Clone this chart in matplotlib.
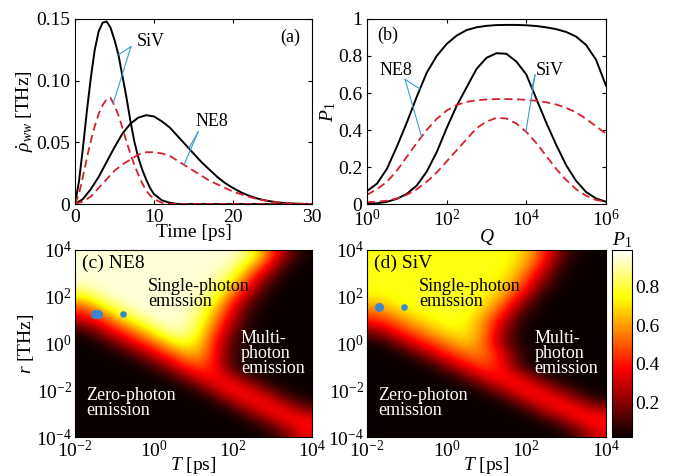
import numpy as np
import matplotlib
matplotlib.use('Agg')
import matplotlib.pyplot as plt

plt.rcParams['font.family'] = ['Liberation Serif', 'DejaVu Serif']
plt.rcParams['mathtext.fontset'] = 'custom'
plt.rcParams['mathtext.rm'] = 'Liberation Serif'
plt.rcParams['mathtext.it'] = 'Liberation Serif:italic'
plt.rcParams['mathtext.bf'] = 'Liberation Serif:bold'

# ---- panel (a): emission rate vs time ----
t_siv = [0, 0.5, 1, 1.5, 2, 2.5, 3, 3.5, 4, 4.5, 5, 5.5, 6, 6.5, 7, 7.5, 8, 8.5,
         9, 9.5, 10, 11, 12, 13, 30]
siv_black = [0, 0.018, 0.045, 0.075, 0.102, 0.125, 0.140, 0.147, 0.148, 0.143,
             0.133, 0.121, 0.104, 0.087, 0.068, 0.051, 0.038, 0.028, 0.020,
             0.013, 0.008, 0.003, 0.001, 0, 0]
siv_red = [0, 0.008, 0.022, 0.037, 0.051, 0.063, 0.073, 0.080, 0.085, 0.086,
           0.080, 0.072, 0.062, 0.051, 0.041, 0.032, 0.024, 0.017, 0.011,
           0.007, 0.004, 0.001, 0, 0, 0]

t_ne8 = list(range(31))
ne8_black = [0, 0.004, 0.012, 0.022, 0.034, 0.046, 0.057, 0.065, 0.070, 0.072,
             0.071, 0.067, 0.062, 0.055, 0.048, 0.041, 0.034, 0.028, 0.022,
             0.017, 0.013, 0.0095, 0.0068, 0.0046, 0.003, 0.0019, 0.0011,
             0.0006, 0.0003, 0.0001, 0]
ne8_red = [0, 0.002, 0.006, 0.013, 0.020, 0.027, 0.032, 0.036, 0.040, 0.042,
           0.042, 0.041, 0.039, 0.035, 0.031, 0.027, 0.023, 0.019, 0.016,
           0.013, 0.010, 0.008, 0.006, 0.004, 0.003, 0.002, 0.0012, 0.0006,
           0.0003, 0.0001, 0]

# ---- panel (b): P1 vs Q (log10 Q) ----
logQ = [0, 0.25, 0.5, 0.75, 1, 1.25, 1.5, 1.75, 2, 2.25, 2.5, 2.75, 3, 3.25,
        3.5, 3.75, 4, 4.25, 4.5, 4.75, 5, 5.25, 5.5, 5.75, 6]
p1_ne8_black = [0.07, 0.11, 0.19, 0.31, 0.44, 0.58, 0.71, 0.80, 0.865, 0.91,
                0.94, 0.955, 0.963, 0.967, 0.968, 0.968, 0.966, 0.962, 0.955,
                0.945, 0.93, 0.905, 0.86, 0.78, 0.64]
p1_siv_black = [0.0, 0.004, 0.012, 0.028, 0.055, 0.10, 0.175, 0.28, 0.41, 0.53,
                0.63, 0.73, 0.79, 0.815, 0.812, 0.77, 0.70, 0.57, 0.44, 0.32,
                0.21, 0.125, 0.065, 0.03, 0.012]
p1_ne8_red = [0.05, 0.08, 0.12, 0.18, 0.255, 0.33, 0.40, 0.46, 0.505, 0.535,
              0.552, 0.561, 0.565, 0.567, 0.567, 0.566, 0.563, 0.558, 0.55,
              0.538, 0.52, 0.495, 0.46, 0.42, 0.38]
p1_siv_red = [0.01, 0.012, 0.018, 0.03, 0.05, 0.08, 0.12, 0.17, 0.23, 0.29,
              0.35, 0.41, 0.445, 0.466, 0.462, 0.435, 0.39, 0.33, 0.26, 0.19,
              0.13, 0.08, 0.045, 0.022, 0.012]

# ---- panels (c),(d): P1 maps, rows log10 r = 4 ... -4, cols log10 T = -2 ... 4 ----
logT_ext = [-2, 4]
logr_ext = [-4, 4]
p1_map_ne8 = [
    [.95, .95, .95, .95, .95, .95, .95, .95, .95, .85, .55, .22, .03],
    [.95, .95, .95, .95, .95, .95, .95, .95, .92, .70, .40, .08, .02],
    [.95, .95, .95, .95, .95, .95, .95, .94, .82, .52, .19, .03, .02],
    [.90, .95, .95, .95, .95, .95, .95, .91, .67, .37, .07, .02, .02],
    [.68, .88, .95, .95, .95, .95, .94, .82, .52, .19, .03, .02, .02],
    [.45, .65, .85, .95, .95, .95, .92, .70, .40, .08, .02, .02, .02],
    [.28, .43, .62, .82, .94, .95, .88, .62, .30, .05, .02, .02, .02],
    [.06, .25, .42, .57, .79, .93, .84, .53, .20, .03, .02, .02, .02],
    [.02, .05, .22, .40, .54, .76, .76, .47, .13, .03, .02, .02, .02],
    [.02, .02, .04, .17, .37, .52, .66, .45, .12, .03, .02, .02, .02],
    [.02, .02, .02, .03, .14, .35, .50, .43, .10, .02, .02, .02, .02],
    [.02, .02, .02, .02, .03, .12, .32, .42, .30, .08, .02, .02, .02],
    [.02, .02, .02, .02, .02, .02, .08, .30, .42, .33, .12, .03, .02],
    [.02, .02, .02, .02, .02, .02, .02, .06, .29, .41, .35, .14, .04],
    [.02, .02, .02, .02, .02, .02, .02, .02, .05, .25, .40, .38, .18],
    [.02, .02, .02, .02, .02, .02, .02, .02, .02, .05, .20, .39, .40],
    [.02, .02, .02, .02, .02, .02, .02, .02, .02, .02, .04, .16, .37],
]
p1_map_siv = [
    [.76, .76, .76, .76, .76, .76, .76, .76, .69, .48, .17, .03, .02],
    [.76, .76, .76, .76, .76, .76, .76, .76, .63, .40, .08, .02, .02],
    [.76, .76, .76, .76, .76, .76, .76, .73, .54, .26, .04, .02, .02],
    [.76, .76, .76, .76, .77, .77, .76, .67, .45, .13, .03, .02, .02],
    [.70, .76, .76, .77, .78, .78, .73, .55, .27, .04, .02, .02, .02],
    [.55, .67, .75, .77, .78, .78, .65, .43, .12, .02, .02, .02, .02],
    [.41, .51, .64, .73, .77, .74, .55, .28, .04, .02, .02, .02, .02],
    [.19, .37, .49, .61, .72, .72, .53, .20, .03, .02, .02, .02, .02],
    [.03, .14, .34, .45, .57, .68, .50, .18, .03, .02, .02, .02, .02],
    [.02, .02, .10, .29, .43, .54, .55, .30, .06, .02, .02, .02, .02],
    [.02, .02, .02, .06, .25, .40, .48, .35, .06, .02, .02, .02, .02],
    [.02, .02, .02, .02, .05, .19, .37, .42, .30, .08, .02, .02, .02],
    [.02, .02, .02, .02, .02, .03, .14, .33, .42, .33, .13, .04, .02],
    [.02, .02, .02, .02, .02, .02, .02, .09, .30, .41, .37, .18, .05],
    [.02, .02, .02, .02, .02, .02, .02, .02, .06, .25, .40, .40, .26],
    [.02, .02, .02, .02, .02, .02, .02, .02, .02, .05, .17, .37, .42],
    [.02, .02, .02, .02, .02, .02, .02, .02, .02, .02, .03, .13, .34],
]
# emitter parameter points (log10 T, log10 r)
pts_ne8_T = [-1.5, -1.42, -0.78]
pts_ne8_r = [1.25, 1.25, 1.26]
pts_siv_T = [-1.69, -1.07]
pts_siv_r = [1.55, 1.55]

RED = '#d4202c'
CYAN = '#3a9ccc'
DOT = '#3b86cf'
FS = 14

fig = plt.figure(figsize=(6.73, 4.76), dpi=100)
ax_a = fig.add_axes([0.1114, 0.5714, 0.3522, 0.3887])
ax_b = fig.add_axes([0.5453, 0.5714, 0.3551, 0.3887])
ax_c = fig.add_axes([0.1114, 0.0819, 0.3522, 0.3929])
ax_d = fig.add_axes([0.5453, 0.0819, 0.3551, 0.3929])
cax = fig.add_axes([0.9094, 0.0819, 0.0297, 0.3929])

dash = (4.5, 2.5)

# (a)
ax_a.plot(t_siv, siv_black, color='k', lw=1.4)
ax_a.plot(t_ne8, ne8_black, color='k', lw=1.4)
ax_a.plot(t_siv, siv_red, color=RED, lw=1.3, dashes=dash)
ax_a.plot(t_ne8, ne8_red, color=RED, lw=1.3, dashes=dash)
ax_a.set_xlim(0, 30)
ax_a.set_ylim(0, 0.15)
ax_a.set_xticks([0, 10, 20, 30])
ax_a.set_yticks([0, 0.05, 0.10, 0.15])
ax_a.set_yticklabels(['0', '0.05', '0.10', '0.15'])
ax_a.set_xlabel('Time [ps]', fontsize=FS, labelpad=-1)
ax_a.set_ylabel(r'$\dot{\rho}_{ww}$ [THz]', fontsize=FS, labelpad=0)
ax_a.text(0.91, 0.90, '(a)', transform=ax_a.transAxes, fontsize=13, ha='center', va='center')

ax_a.text(9.6, 0.132, 'SiV', fontsize=13, ha='center', va='center')
for tt, src in [(5.5, (t_siv, siv_black)), (4.85, (t_siv, siv_red))]:
    ax_a.plot([7.09, tt], [0.1276, np.interp(tt, *src)], color=CYAN, lw=0.8)
ax_a.text(17.3, 0.0665, 'NE8', fontsize=13, ha='center', va='center')
for tt, src in [(14.4, (t_ne8, ne8_black)), (13.8, (t_ne8, ne8_red))]:
    ax_a.plot([15.6, tt], [0.0586, np.interp(tt, *src)], color=CYAN, lw=0.8)

# (b)
Q = 10.0 ** np.array(logQ)
ax_b.semilogx(Q, p1_ne8_black, color='k', lw=1.4)
ax_b.semilogx(Q, p1_siv_black, color='k', lw=1.4)
ax_b.semilogx(Q, p1_ne8_red, color=RED, lw=1.3, dashes=dash)
ax_b.semilogx(Q, p1_siv_red, color=RED, lw=1.3, dashes=dash)
ax_b.set_xlim(1, 1e6)
ax_b.set_ylim(0, 1)
ax_b.set_xticks([1, 1e2, 1e4, 1e6])
ax_b.set_xticklabels([r'$10^0$', r'$10^2$', r'$10^4$', r'$10^6$'])
ax_b.xaxis.set_minor_locator(matplotlib.ticker.NullLocator())
ax_b.set_yticks([0, 0.2, 0.4, 0.6, 0.8, 1])
ax_b.set_yticklabels(['0', '0.2', '0.4', '0.6', '0.8', '1'])
ax_b.set_xlabel(r'$Q$', fontsize=FS, labelpad=-2)
ax_b.set_ylabel(r'$P_1$', fontsize=FS, labelpad=0)
ax_b.text(0.088, 0.91, '(b)', transform=ax_b.transAxes, fontsize=13, ha='center', va='center')

ax_b.text(10 ** 0.73, 0.724, 'NE8', fontsize=13, ha='center', va='center')
for lq, curve in [(1.33, p1_ne8_black), (1.37, p1_ne8_red)]:
    ax_b.plot([10 ** 0.955, 10 ** lq], [0.674, np.interp(lq, logQ, curve)], color=CYAN, lw=0.8)
ax_b.text(10 ** 4.6, 0.724, 'SiV', fontsize=13, ha='center', va='center')
for lq, curve in [(4.14, p1_siv_black), (3.99, p1_siv_red)]:
    ax_b.plot([10 ** 4.22, 10 ** lq], [0.697, np.interp(lq, logQ, curve)], color=CYAN, lw=0.8)

for ax in (ax_a, ax_b):
    ax.tick_params(direction='in', top=True, right=True, labelsize=FS, length=3)

# (c),(d)
ext = [logT_ext[0], logT_ext[1], logr_ext[0], logr_ext[1]]
im = None
for ax, grid, tag, sx, pts in [
        (ax_c, p1_map_ne8, '(c) NE8', -0.15, (pts_ne8_T, pts_ne8_r)),
        (ax_d, p1_map_siv, '(d) SiV', -0.69, (pts_siv_T, pts_siv_r))]:
    im = ax.imshow(np.array(grid), extent=ext, origin='upper', aspect='auto',
                   cmap='hot', vmin=0.02, vmax=0.99, interpolation='bicubic')
    ax.set_xlim(-2, 4)
    ax.set_ylim(-4, 4)
    ax.set_xticks([-2, 0, 2, 4])
    ax.set_xticklabels([r'$10^{-2}$', r'$10^{0}$', r'$10^{2}$', r'$10^{4}$'])
    ax.set_yticks([-4, -2, 0, 2, 4])
    ax.set_yticklabels([r'$10^{-4}$', r'$10^{-2}$', r'$10^{0}$', r'$10^{2}$', r'$10^{4}$'])
    ax.tick_params(direction='in', labelsize=FS, length=0, pad=2)
    ax.set_xlabel(r'$T$ [ps]', fontsize=FS, labelpad=-4)
    ax.text(-1.82, 3.44, tag, fontsize=14, ha='left', va='center')
    ax.text(sx, 2.1, 'Single-photon\nemission', fontsize=13, ha='left', va='center',
            linespacing=0.85, color='k')
    ax.text(2.2, -0.44, 'Multi-\nphoton\nemission', fontsize=13, ha='left', va='center',
            linespacing=0.85, color='w')
    ax.text(-1.72, -2.54, 'Zero-photon\nemission', fontsize=13, ha='left', va='center',
            linespacing=0.85, color='w')
    ax.scatter(pts[0][:-1], pts[1][:-1], s=30, color=DOT, zorder=3)
    ax.scatter(pts[0][-1:], pts[1][-1:], s=14, color=DOT, zorder=3)

ax_c.set_ylabel(r'$r$ [THz]', fontsize=FS, labelpad=0)

cb = fig.colorbar(im, cax=cax, ticks=[0.2, 0.4, 0.6, 0.8])
cb.ax.tick_params(labelsize=FS, length=0, pad=2)
cb.outline.set_linewidth(0.8)
cax.set_title(r'$P_1$', fontsize=FS, pad=2)

fig.savefig('out.png', dpi=100)
